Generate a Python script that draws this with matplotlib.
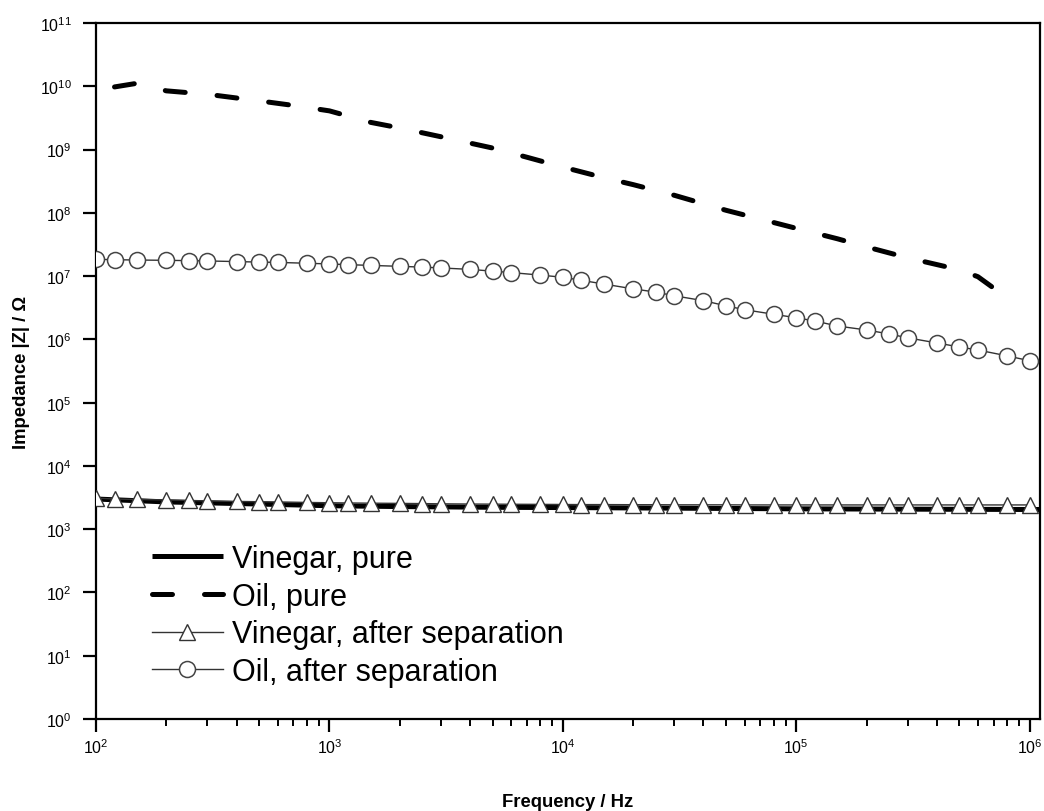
import matplotlib
matplotlib.use("Agg")
import matplotlib.pyplot as plt
import numpy as np

plt.rcParams['font.family'] = ['Liberation Sans', 'DejaVu Sans']
plt.rcParams['mathtext.fontset'] = 'custom'
plt.rcParams['mathtext.rm'] = 'Liberation Sans'
plt.rcParams['mathtext.it'] = 'Liberation Sans'

# frequencies of the "after separation" sweeps (10 points per decade)
freq_sep = [100, 120, 150, 200, 250, 300, 400, 500, 600, 800,
            1e3, 1.2e3, 1.5e3, 2e3, 2.5e3, 3e3, 4e3, 5e3, 6e3, 8e3,
            1e4, 1.2e4, 1.5e4, 2e4, 2.5e4, 3e4, 4e4, 5e4, 6e4, 8e4,
            1e5, 1.2e5, 1.5e5, 2e5, 2.5e5, 3e5, 4e5, 5e5, 6e5, 8e5, 1e6]

oil_sep = [1.85e7, 1.82e7, 1.80e7, 1.78e7, 1.76e7, 1.74e7, 1.70e7, 1.67e7, 1.65e7, 1.60e7,
           1.56e7, 1.52e7, 1.48e7, 1.43e7, 1.39e7, 1.35e7, 1.28e7, 1.20e7, 1.14e7, 1.04e7,
           9.6e6, 8.6e6, 7.5e6, 6.3e6, 5.6e6, 4.9e6, 4.1e6, 3.4e6, 2.95e6, 2.5e6,
           2.2e6, 1.96e6, 1.63e6, 1.41e6, 1.22e6, 1.06e6, 8.8e5, 7.6e5, 6.8e5, 5.5e5, 4.6e5]

vinegar_sep = [3.1e3, 3.0e3, 2.95e3, 2.9e3, 2.85e3, 2.8e3, 2.75e3, 2.72e3, 2.7e3, 2.65e3,
               2.62e3, 2.6e3, 2.58e3, 2.56e3, 2.54e3, 2.52e3, 2.5e3, 2.49e3, 2.48e3, 2.47e3,
               2.46e3, 2.45e3, 2.45e3, 2.44e3, 2.44e3, 2.43e3, 2.43e3, 2.43e3, 2.42e3, 2.42e3,
               2.42e3, 2.42e3, 2.42e3, 2.42e3, 2.42e3, 2.42e3, 2.42e3, 2.42e3, 2.42e3, 2.42e3, 2.42e3]

# pure samples
freq_vin = [100, 200, 500, 1e3, 2e3, 5e3, 1e4, 1e5, 1e6, 1.1e6]
vinegar_pure = [3.0e3, 2.7e3, 2.5e3, 2.35e3, 2.28e3, 2.22e3, 2.2e3, 2.1e3, 2.05e3, 2.05e3]

freq_oil = [120, 150, 200, 300, 500, 700, 1e3, 1.5e3, 2e3, 3e3, 5e3, 7e3,
            1e4, 1.5e4, 2e4, 3e4, 5e4, 7e4, 1e5, 1.5e5, 2e5, 3e5, 5e5, 6e5, 7.5e5]
oil_pure = [9.8e9, 1.12e10, 8.5e9, 7.5e9, 5.9e9, 5.0e9, 4.1e9, 2.7e9, 2.2e9, 1.6e9, 1.06e9, 7.6e8,
            5.3e8, 3.6e8, 2.8e8, 1.9e8, 1.1e8, 8.0e7, 5.7e7, 3.9e7, 2.9e7, 1.95e7, 1.26e7, 9.8e6, 5.4e6]

fig = plt.figure(figsize=(10.44, 8.12), dpi=100)
ax = fig.add_axes([0.092, 0.1133, 0.904, 0.857])

ax.plot(freq_vin, vinegar_pure, color='black', lw=3.6, solid_capstyle='butt',
        label='Vinegar, pure', zorder=2)
oil_line, = ax.plot(freq_oil, oil_pure, color='black', lw=3.6, dash_capstyle='round',
                    label='Oil, pure', zorder=2)
oil_line.set_dashes([4.0, 6.4])
ax.plot(freq_sep, vinegar_sep, color='#333333', lw=1, marker='^', ms=11.5,
        mfc='white', mec='#333333', mew=1, label='Vinegar, after separation', zorder=3)
ax.plot(freq_sep, oil_sep, color='#333333', lw=1, marker='o', ms=11.5,
        mfc='white', mec='#444444', mew=1.1, label='Oil, after separation', zorder=3)

ax.set_xscale('log')
ax.set_yscale('log')
ax.set_xlim(100, 1.105e6)
ax.set_ylim(1, 1e11)
ax.set_yticks([10.0 ** k for k in range(0, 12)])
ax.yaxis.set_minor_locator(matplotlib.ticker.NullLocator())

for s in ax.spines.values():
    s.set_linewidth(1.6)
ax.tick_params(which='major', direction='out', length=9.5, width=1.6, labelsize=11.5, pad=8)
ax.tick_params(which='minor', direction='out', length=5, width=1.4)
ax.tick_params(axis='x', pad=4)

ax.set_xlabel('Frequency / Hz', fontsize=13.3, fontweight='bold', labelpad=26)
ax.set_ylabel('Impedance |Z| / Ω', fontsize=13.3, fontweight='bold', labelpad=7)

ax.legend(loc='lower left', bbox_to_anchor=(0.059, 0.046), frameon=False, fontsize=22,
          handlelength=2.32, handletextpad=0.3, labelspacing=0.25, borderaxespad=0,
          borderpad=0)

fig.savefig('out.png', dpi=100)
